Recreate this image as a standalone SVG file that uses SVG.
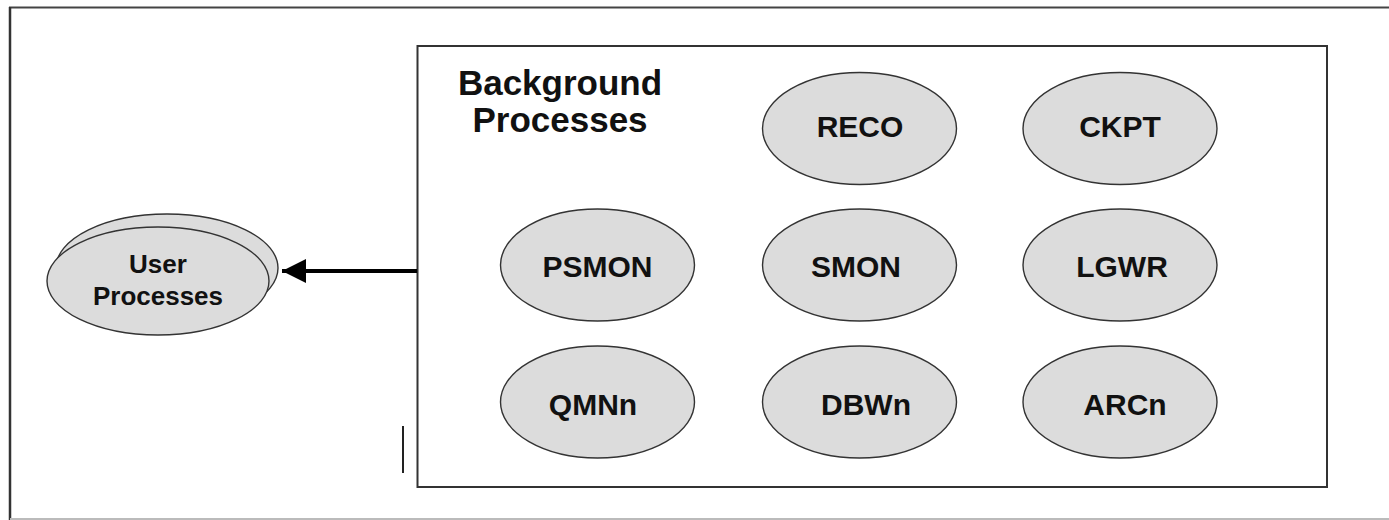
<svg xmlns="http://www.w3.org/2000/svg" width="1389" height="520" viewBox="0 0 1389 520">
<defs>
<style>
.proc{fill:#dcdcdc;stroke:#333;stroke-width:1.4}
.lbl{font-family:"Liberation Sans",Arial,sans-serif;font-weight:bold;font-size:30px;fill:#111;text-anchor:middle}
.ulbl{font-family:"Liberation Sans",Arial,sans-serif;font-weight:bold;font-size:26px;fill:#111;text-anchor:middle}
.ttl{font-family:"Liberation Sans",Arial,sans-serif;font-weight:bold;font-size:35px;fill:#111;text-anchor:middle}
</style>
<marker id="ah" markerUnits="userSpaceOnUse" markerWidth="26" markerHeight="26" refX="24" refY="12" orient="auto">
<path d="M0,0 L24,12 L0,24 Z" fill="#000"/>
</marker>
</defs>
<rect width="1389" height="520" fill="#fff"/>
<g id="frame">
<line x1="9" y1="7.5" x2="1389" y2="7.5" stroke="#444" stroke-width="2"/>
<line x1="10" y1="7" x2="10" y2="520" stroke="#333" stroke-width="2.5"/>
<line x1="10" y1="519" x2="1389" y2="519" stroke="#bbb" stroke-width="2"/>
<line x1="403" y1="426" x2="403" y2="473" stroke="#222" stroke-width="2"/>
</g>
<g id="background">
<rect x="417.5" y="46" width="909.5" height="441" fill="none" stroke="#333" stroke-width="2"/>
<text class="ttl" x="560" y="95">Background</text>
<text class="ttl" x="560" y="132">Processes</text>
</g>
<g id="user">
<ellipse class="proc" cx="167" cy="268" rx="111" ry="54"/>
<ellipse class="proc" cx="158" cy="281" rx="111" ry="54"/>
<text class="ulbl" x="158" y="273">User</text>
<text class="ulbl" x="158" y="305">Processes</text>
</g>
<g id="reco"><ellipse class="proc" cx="859.5" cy="128.5" rx="97" ry="56"/><text class="lbl" x="860" y="137">RECO</text></g>
<g id="ckpt"><ellipse class="proc" cx="1120" cy="128.5" rx="97" ry="56"/><text class="lbl" x="1120" y="137">CKPT</text></g>
<g id="psmon"><ellipse class="proc" cx="597.5" cy="265" rx="97" ry="56"/><text class="lbl" x="597.5" y="277">PSMON</text></g>
<g id="smon"><ellipse class="proc" cx="859.5" cy="265" rx="97" ry="56"/><text class="lbl" x="856" y="277">SMON</text></g>
<g id="lgwr"><ellipse class="proc" cx="1120" cy="265" rx="97" ry="56"/><text class="lbl" x="1122" y="277">LGWR</text></g>
<g id="qmnn"><ellipse class="proc" cx="597.5" cy="402" rx="97" ry="56"/><text class="lbl" x="593" y="415">QMNn</text></g>
<g id="dbwn"><ellipse class="proc" cx="859.5" cy="402" rx="97" ry="56"/><text class="lbl" x="866" y="415">DBWn</text></g>
<g id="arcn"><ellipse class="proc" cx="1120" cy="402" rx="97" ry="56"/><text class="lbl" x="1125" y="415">ARCn</text></g>
<g id="connectors">
<line x1="417" y1="271" x2="282" y2="271" stroke="#000" stroke-width="4" marker-end="url(#ah)"/>
</g>
</svg>
